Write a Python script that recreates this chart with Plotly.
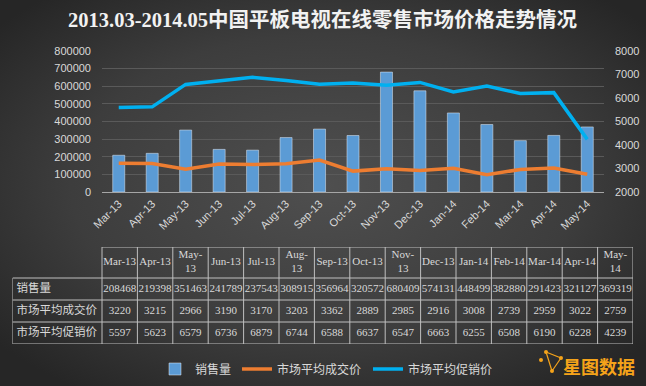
import base64
import plotly.graph_objects as go

months = ["Mar-13", "Apr-13", "May-13", "Jun-13", "Jul-13", "Aug-13", "Sep-13", "Oct-13",
          "Nov-13", "Dec-13", "Jan-14", "Feb-14", "Mar-14", "Apr-14", "May-14"]
table_headers = ["Mar-13", "Apr-13", "May-<br>13", "Jun-13", "Jul-13", "Aug-<br>13", "Sep-13", "Oct-13",
                 "Nov-<br>13", "Dec-13", "Jan-14", "Feb-14", "Mar-14", "Apr-14", "May-<br>14"]
sales = [208468, 219398, 351463, 241789, 237543, 308915, 356964, 320572,
         680409, 574131, 448499, 382880, 291423, 321127, 369319]
avg_price = [3220, 3215, 2966, 3190, 3170, 3203, 3362, 2889,
             2985, 2916, 3008, 2739, 2959, 3022, 2759]
promo_price = [5597, 5623, 6579, 6736, 6879, 6744, 6588, 6637,
               6547, 6663, 6255, 6508, 6190, 6228, 4239]
series_names = ["销售量", "市场平均成交价", "市场平均促销价"]
title_text = "2013.03-2014.05中国平板电视在线零售市场价格走势情况"

W, H = 646, 386
TXT = "#d9d9d9"
GRID_T = "#bfbfbf"

svg = (
    '<svg xmlns="http://www.w3.org/2000/svg" width="646" height="386">'
    '<defs><radialGradient id="g" cx="50%" cy="48%" r="65%">'
    '<stop offset="0%" stop-color="#4f4f4f"/><stop offset="60%" stop-color="#3d3d3d"/>'
    '<stop offset="100%" stop-color="#262626"/></radialGradient></defs>'
    '<rect width="646" height="386" fill="url(#g)"/></svg>'
)
bg_src = "data:image/svg+xml;base64," + base64.b64encode(svg.encode()).decode()

fig = go.Figure()
fig.add_trace(go.Bar(x=months, y=sales, name=series_names[0], marker_color="#5b9bd5",
                     yaxis="y", width=0.36, legend="legend"))
fig.add_trace(go.Scatter(x=months, y=avg_price, name=series_names[1], mode="lines",
                         line=dict(color="#ed7d31", width=3.5), yaxis="y2", legend="legend2"))
fig.add_trace(go.Scatter(x=months, y=promo_price, name=series_names[2], mode="lines",
                         line=dict(color="#00b0f0", width=3.5), yaxis="y2", legend="legend3"))

# ---- data table drawn on its own pixel-unit axes ----
n = len(months)
LABEL_W, COL_W, HEAD_H, ROW_H = 89.5, 35.4, 31, 22
TW = LABEL_W + COL_W * n
TH = HEAD_H + ROW_H * len(series_names)
col_x = [LABEL_W + COL_W * (i + 0.5) for i in range(n)]
row_y = [HEAD_H + ROW_H * (r + 0.5) for r in range(len(series_names))]
rows = [sales, avg_price, promo_price]

fig.add_trace(go.Scatter(x=col_x, y=[HEAD_H / 2] * n, text=table_headers, mode="text",
                         textfont=dict(family="Liberation Serif", size=11, color=TXT),
                         xaxis="x3", yaxis="y3", hoverinfo="skip", showlegend=False))
for r, vals in enumerate(rows):
    fig.add_trace(go.Scatter(x=col_x, y=[row_y[r]] * n, text=[str(v) for v in vals], mode="text",
                             textfont=dict(family="Liberation Serif", size=11, color=TXT),
                             xaxis="x3", yaxis="y3", hoverinfo="skip", showlegend=False))
fig.add_trace(go.Scatter(x=[4] * len(series_names), y=row_y, text=series_names, mode="text",
                         textposition="middle right",
                         textfont=dict(family="Noto Sans CJK SC", size=11.5, color=TXT),
                         xaxis="x3", yaxis="y3", hoverinfo="skip", showlegend=False))

tline = dict(color=GRID_T, width=1)
fig.add_shape(type="line", xref="x3", yref="y3", x0=LABEL_W, x1=TW, y0=0, y1=0, line=tline)
for yy in [HEAD_H + ROW_H * k for k in range(len(series_names) + 1)]:
    fig.add_shape(type="line", xref="x3", yref="y3", x0=0, x1=TW, y0=yy, y1=yy, line=tline)
fig.add_shape(type="line", xref="x3", yref="y3", x0=0, x1=0, y0=HEAD_H, y1=TH, line=tline)
for k in range(n + 1):
    xx = LABEL_W + COL_W * k
    fig.add_shape(type="line", xref="x3", yref="y3", x0=xx, x1=xx, y0=0, y1=TH, line=tline)

legend_common = dict(orientation="h", yanchor="middle", y=1 - 369 / H, xanchor="left",
                     bgcolor="rgba(0,0,0,0)", itemwidth=30,
                     font=dict(family="Noto Sans CJK SC", size=12, color=TXT))

fig.update_layout(
    width=W, height=H,
    margin=dict(l=0, r=0, t=0, b=0),
    paper_bgcolor="#383838",
    plot_bgcolor="rgba(0,0,0,0)",
    bargap=0.64,
    showlegend=True,
    legend=dict(legend_common, x=155 / W),
    legend2=dict(legend_common, x=237 / W),
    legend3=dict(legend_common, x=368 / W),
    xaxis=dict(domain=[102 / W, 604 / W], tickangle=-45, showgrid=False,
               tickfont=dict(family="Liberation Sans", size=11, color=TXT),
               showline=True, linecolor="#a6a6a6", linewidth=1, ticks="", automargin=False,
               anchor="y", fixedrange=True),
    yaxis=dict(domain=[1 - 192 / H, 1 - 51 / H], range=[0, 800000], dtick=100000,
               tickfont=dict(family="Liberation Sans", size=11, color=TXT),
               gridcolor="#5a5a5a", gridwidth=1, zeroline=False, showline=False,
               tickformat="d", automargin=False, ticklabelstandoff=10, fixedrange=True),
    yaxis2=dict(overlaying="y", side="right", range=[2000, 8000], dtick=1000,
                tickfont=dict(family="Liberation Sans", size=11, color=TXT),
                showgrid=False, zeroline=False, showline=False, tickformat="d",
                automargin=False, anchor="x", ticklabelstandoff=10, fixedrange=True),
    xaxis3=dict(domain=[12.5 / W, (12.5 + TW) / W], range=[0, TW], visible=False,
                anchor="y3", fixedrange=True),
    yaxis3=dict(domain=[1 - (247 + TH) / H, 1 - 247 / H], range=[TH, 0], visible=False,
                anchor="x3", fixedrange=True),
    images=[dict(source=bg_src, xref="paper", yref="paper", x=0, y=1, sizex=1, sizey=1,
                 xanchor="left", yanchor="top", sizing="stretch", layer="below")],
    annotations=[
        dict(text="<b>" + title_text + "</b>", xref="paper", yref="paper", x=0.5, y=1 - 20 / H,
             xanchor="center", yanchor="middle", showarrow=False,
             font=dict(family="Liberation Serif, Noto Sans CJK SC", size=20.5, color="#f2f2f2")),
        dict(text="<b>星图数据</b>", xref="paper", yref="paper", x=561 / W, y=1 - 366 / H,
             xanchor="left", yanchor="middle", showarrow=False,
             font=dict(family="Noto Sans CJK SC", size=18, color="#f5a31a")),
    ],
)

# small constellation logo icon
icon_color = "#f5a31a"
pts = [(546, 352), (561, 358), (552, 371), (541, 360)]
for (a, b) in [(0, 2), (1, 2), (0, 1)]:
    fig.add_shape(type="line", xref="paper", yref="paper",
                  x0=pts[a][0] / W, y0=1 - pts[a][1] / H, x1=pts[b][0] / W, y1=1 - pts[b][1] / H,
                  line=dict(color=icon_color, width=1.2))
for (px, py) in pts:
    fig.add_shape(type="circle", xref="paper", yref="paper",
                  x0=(px - 2) / W, x1=(px + 2) / W, y0=1 - (py + 2) / H, y1=1 - (py - 2) / H,
                  fillcolor=icon_color, line=dict(width=0))

fig.write_html("out.html", config={"displayModeBar": False},
               post_script="document.body.style.margin='0';document.body.style.overflow='hidden';")
